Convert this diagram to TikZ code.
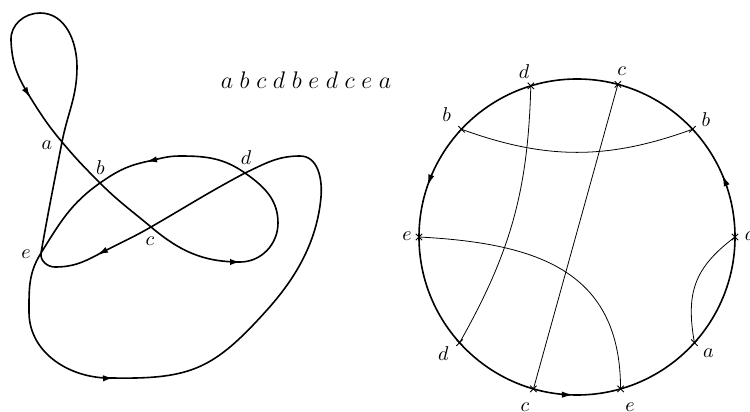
\documentclass[tikz,border=0pt]{standalone}
\usetikzlibrary{arrows.meta}
\begin{document}
\begin{tikzpicture}[x=0.5pt,y=0.5pt,
  knot/.style={line width=0.8pt, line join=round},
  circ/.style={line width=0.8pt},
  chord/.style={line width=0.4pt},
  ktip/.style={-{Latex[length=5pt,width=3.2pt]}, line width=0.8pt},
  ctip/.style={-{Latex[length=5.5pt,width=3.2pt]}, line width=0.8pt},
  lbl/.style={inner sep=0pt, font=\fontsize{9.6}{11}\selectfont},
  crossmark/.pic={\draw[line width=0.45pt] (-3.2,-3.2)--(3.2,3.2) (-3.2,3.2)--(3.2,-3.2);}]
\useasboundingbox (0,0) rectangle (750,412);

% ---------- left: closed curve ----------
\coordinate (ka) at (62,270);
\coordinate (kb) at (100,229);
\coordinate (kc) at (151,185);
\coordinate (kd) at (245,239);
\coordinate (ke) at (41,159);
\coordinate (t1) at (30,315);
\coordinate (t2) at (240,150);
\coordinate (t3) at (147,250.5);
\coordinate (t4) at (113,34);
\coordinate (t5) at (98,157.5);

\draw[knot] (11,372) to[out=272,in=122] (t1) to[out=-58,in=130] (ka)
  to[out=-50,in=135] (kb) to[out=-45,in=140] (kc) to[out=-40,in=180] (t2)
  to[out=0,in=270] (278,189) to[out=90,in=-35] (kd) to[out=145,in=0] (180,256)
  to[out=180,in=12] (t3) to[out=192,in=35] (kb) to[out=215,in=58] (ke)
  to[out=238,in=90] (29,100) to[out=270,in=182] (t4)
  to[out=-1,in=228,looseness=1.2] (267,102)
  to[out=48,in=265,looseness=0.9] (321,215) to[out=85,in=0] (300,256)
  to[out=180,in=25] (kd) to[out=208,in=30] (kc) to[out=210,in=28] (t5)
  to[out=208,in=0] (55,145) to[out=180,in=262] (ke) to[out=80,in=259] (ka)
  to[out=79,in=270] (77,345) to[out=90,in=0] (40,399) to[out=180,in=92] (11,372);

\draw[ktip] (t1) ++(122:2) -- (t1);
\draw[ktip] (t2) ++(180:2) -- (t2);
\draw[ktip] (t3) ++(12:2) -- (t3);
\draw[ktip] (t4) ++(182:2) -- (t4);
\draw[ktip] (t5) ++(28:2) -- (t5);

\node[lbl] (la) at (47,267) {$a$};
\node[lbl] (lb) at (100.5,244) {$b$};
\node[lbl] (lc) at (150,170.5) {$c$};
\node[lbl] (ld) at (246,254) {$d$};
\node[lbl] (le) at (26,158) {$e$};

\node[inner sep=0pt, font=\fontsize{12.5}{15}\selectfont] (word) at (306,332)
  {$a\kern3.3pt b\kern3.3pt c\kern3.3pt d\kern3.3pt b\kern3.3pt e\kern3.3pt d\kern3.3pt c\kern3.3pt e\kern3.3pt a$};

% ---------- right: circle with chords ----------
\coordinate (O) at (577,175);
\draw[circ] (O) circle[radius=158];
\path (O) ++(0:158) coordinate (A1);
\path (O) ++(43:158) coordinate (B1);
\path (O) ++(75:158) coordinate (C1);
\path (O) ++(107:158) coordinate (D1);
\path (O) ++(137:158) coordinate (B2);
\path (O) ++(180:158) coordinate (E1);
\path (O) ++(222:158) coordinate (D2);
\path (O) ++(254:158) coordinate (C2);
\path (O) ++(286:158) coordinate (E2);
\path (O) ++(318:158) coordinate (A2);

\draw[ctip] (O) ++(157:158) arc[start angle=157, end angle=161, radius=158];
\draw[ctip] (O) ++(19:158) arc[start angle=19, end angle=23, radius=158];
\draw[ctip] (O) ++(264.5:158) arc[start angle=264.5, end angle=268.5, radius=158];

\draw[chord] (B2) to[bend right=20] (B1);
\draw[chord] (D1) to[bend left=14] (D2);
\draw[chord] (C1) -- (C2);
\draw[chord] (E1) to[out=-3,in=90,looseness=1.2] (E2);
\draw[chord] (A1) to[out=217,in=100,looseness=1.15] (A2);

\foreach \p in {A1,B1,C1,D1,B2,E1,D2,C2,E2,A2} \pic at (\p) {crossmark};

\node[lbl] (lD1) at (524,340.3) {$d$};
\node[lbl] (lC1) at (621.7,340.3) {$c$};
\node[lbl] (lB2) at (446.7,297) {$b$};
\node[lbl] (lB1) at (706,292.7) {$b$};
\node[lbl] (lE1) at (407,176) {$e$};
\node[lbl, anchor=west] (lA1) at (744.5,176) {$a$};
\node[lbl] (lD2) at (443.3,58.7) {$d$};
\node[lbl] (lA2) at (708.3,58.7) {$a$};
\node[lbl] (lC2) at (525,5.3) {$c$};
\node[lbl] (lE2) at (630,5.3) {$e$};
\end{tikzpicture}
\end{document}
